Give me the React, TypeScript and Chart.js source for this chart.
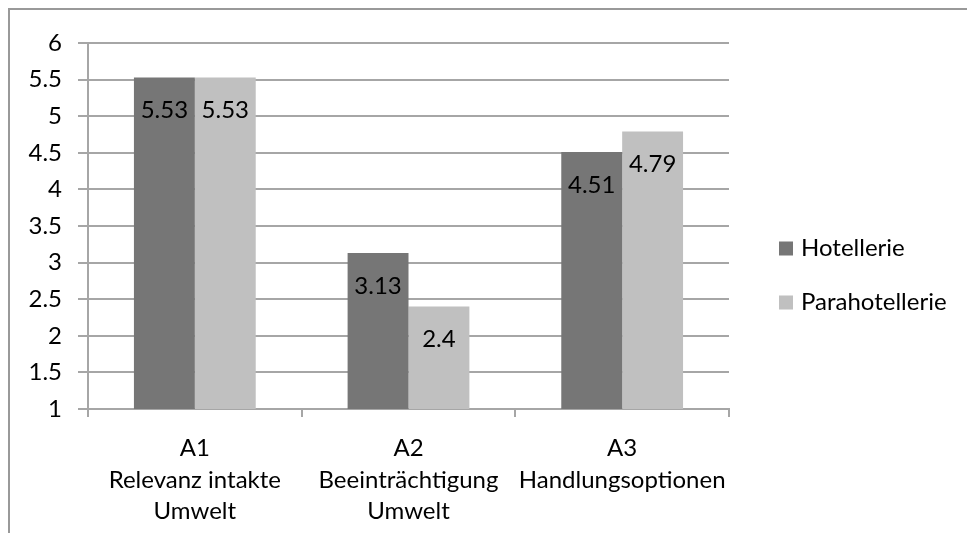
import React, { useEffect, useRef } from "react";
import { Chart, registerables } from "chart.js";

Chart.register(...registerables);

const categories: string[][] = [
  ["A1", "Relevanz intakte", "Umwelt"],
  ["A2", "Beeinträchtigung", "Umwelt"],
  ["A3", "Handlungsoptionen"],
];
const seriesNames = ["Hotellerie", "Parahotellerie"];
const hotellerie = [5.53, 3.13, 4.51];
const parahotellerie = [5.53, 2.4, 4.79];
const seriesColors = ["#767676", "#c0c0c0"];
const yMin = 1;
const yMax = 6;
const yStep = 0.5;

const FONT = "Lato";
const FS = 24;
const GRID = "#a6a6a6";

const valueLabels = {
  id: "valueLabels",
  afterDatasetsDraw(chart: any) {
    const ctx = chart.ctx;
    ctx.save();
    ctx.font = `${FS}px ${FONT}`;
    ctx.fillStyle = "#000";
    ctx.textAlign = "center";
    ctx.textBaseline = "middle";
    chart.data.datasets.forEach((ds: any, di: number) => {
      const meta = chart.getDatasetMeta(di);
      meta.data.forEach((el: any, i: number) => {
        ctx.fillText(String(ds.data[i]), el.x, el.y + 33);
      });
    });
    ctx.restore();
  },
};

const customLegend = {
  id: "customLegend",
  afterDraw(chart: any) {
    const ctx = chart.ctx;
    const area = chart.chartArea;
    const x = area.right + 50;
    const cy = chart.height / 2 + 4;
    ctx.save();
    ctx.font = `${FS}px ${FONT}`;
    ctx.textAlign = "left";
    ctx.textBaseline = "middle";
    chart.data.datasets.forEach((ds: any, i: number) => {
      const y = cy + (i - 0.5) * 54;
      ctx.fillStyle = ds.backgroundColor;
      ctx.fillRect(x, y - 7, 14, 14);
      ctx.fillStyle = "#000";
      ctx.fillText(ds.label, x + 22, y);
    });
    ctx.restore();
  },
};

export default function App() {
  const ref = useRef<HTMLCanvasElement | null>(null);
  useEffect(() => {
    if (!ref.current) return;
    const chart = new Chart(ref.current, {
      type: "bar",
      data: {
        labels: categories,
        datasets: [
          { label: seriesNames[0], data: hotellerie, backgroundColor: seriesColors[0] },
          { label: seriesNames[1], data: parahotellerie, backgroundColor: seriesColors[1] },
        ],
      },
      options: {
        responsive: false,
        animation: false,
        layout: { padding: { left: 0, right: 246, top: 33, bottom: 0 } },
        datasets: {
          bar: { barPercentage: 1, categoryPercentage: 0.57 },
        },
        plugins: {
          legend: { display: false },
          tooltip: { enabled: false },
        },
        scales: {
          x: {
            grid: {
              display: true,
              drawOnChartArea: false,
              drawTicks: true,
              tickLength: 8,
              color: GRID,
              lineWidth: 2,
            },
            border: { display: true, color: GRID, width: 2 },
            ticks: {
              color: "#000",
              font: { family: FONT, size: FS, lineHeight: 1.31 },
              padding: 16,
              maxRotation: 0,
              autoSkip: false,
            },
            afterFit(scale: any) {
              scale.height = 124;
            },
          },
          y: {
            min: yMin,
            max: yMax,
            grid: { color: GRID, lineWidth: 2, tickLength: 10, drawTicks: true },
            border: { display: true, color: GRID, width: 2 },
            ticks: {
              stepSize: yStep,
              color: "#000",
              font: { family: FONT, size: FS },
              padding: 16,
              callback: (v: any) => String(Number(v)),
            },
            afterFit(scale: any) {
              scale.width = 78;
            },
          },
        },
      },
      plugins: [valueLabels, customLegend],
    });
    return () => chart.destroy();
  }, []);

  return (
    <div
      style={{
        width: 967,
        height: 525,
        borderTop: "2px solid #999",
        borderLeft: "2px solid #999",
        boxSizing: "border-box",
        background: "#fff",
        overflow: "hidden",
      }}
    >
      <canvas ref={ref} width={965} height={523} style={{ display: "block" }} />
    </div>
  );
}
